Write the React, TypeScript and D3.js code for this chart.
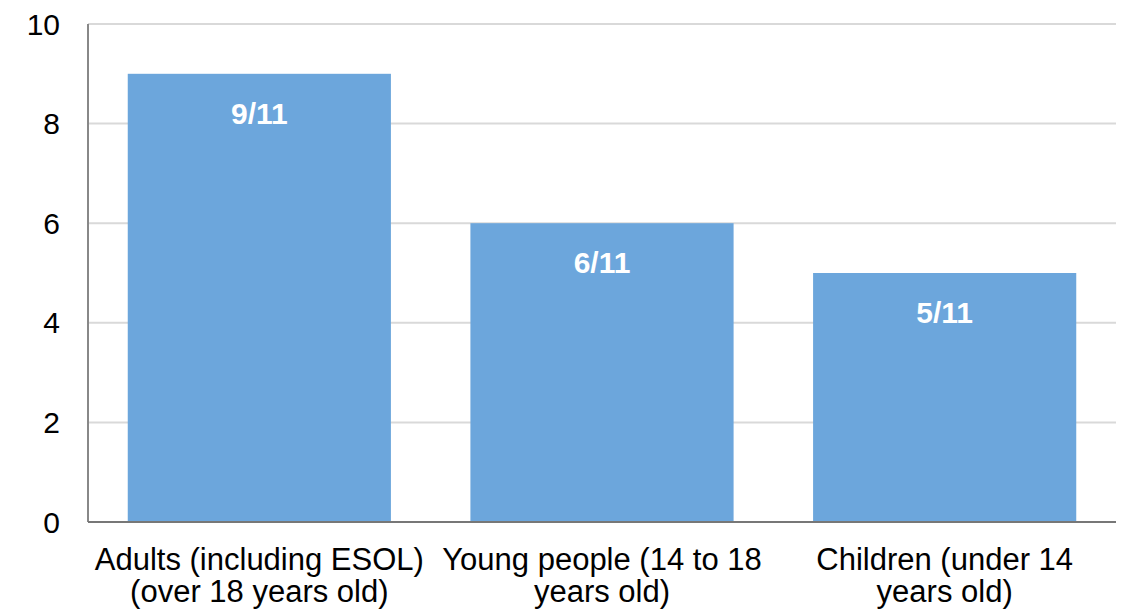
import React from "react";
import * as d3 from "d3";

const categories = [
  ["Adults (including ESOL)", "(over 18 years old)"],
  ["Young people (14 to 18", "years old)"],
  ["Children (under 14", "years old)"],
];
const values = [9, 6, 5];
const valueLabels = ["9/11", "6/11", "5/11"];
const yTicks = [0, 2, 4, 6, 8, 10];

export default function App() {
  const width = 1125;
  const height = 612;
  const left = 88;
  const right = 1116;
  const top = 24;
  const bottom = 522;
  const x = d3
    .scaleBand<number>()
    .domain(d3.range(values.length))
    .range([left, right])
    .paddingInner(0.232)
    .paddingOuter(0.116);
  const y = d3.scaleLinear().domain([0, 10]).range([bottom, top]);
  const font = "'Liberation Sans', Arial, sans-serif";
  return (
    <svg
      width={width}
      height={height}
      style={{ position: "absolute", left: 0, top: 0 }}
      fontFamily={font}
    >
      <rect width={width} height={height} fill="#fff" />
      {yTicks.map((t) => (
        <g key={t}>
          {t > 0 && (
            <line x1={left} x2={right} y1={y(t)} y2={y(t)} stroke="#d9d9d9" strokeWidth={2} />
          )}
          <text x={60} y={y(t)} dy="0.35em" textAnchor="end" fontSize={30} fill="#000">
            {t}
          </text>
        </g>
      ))}
      {values.map((v, i) => (
        <g key={i}>
          <rect
            x={x(i)}
            y={y(v)}
            width={x.bandwidth()}
            height={bottom - y(v)}
            fill="#6ca6dc"
          />
          <text
            x={(x(i) as number) + x.bandwidth() / 2}
            y={y(v) + 50}
            textAnchor="middle"
            fontSize={30}
            fontWeight="bold"
            fill="#fff"
          >
            {valueLabels[i]}
          </text>
          {categories[i].map((line, j) => (
            <text
              key={j}
              x={(x(i) as number) + x.bandwidth() / 2}
              y={570 + j * 32}
              textAnchor="middle"
              fontSize={31}
              fill="#000"
            >
              {line}
            </text>
          ))}
        </g>
      ))}
      <line x1={left} x2={left} y1={top} y2={bottom} stroke="#888" strokeWidth={2} />
      <line x1={left} x2={right} y1={bottom} y2={bottom} stroke="#777" strokeWidth={2} />
    </svg>
  );
}
